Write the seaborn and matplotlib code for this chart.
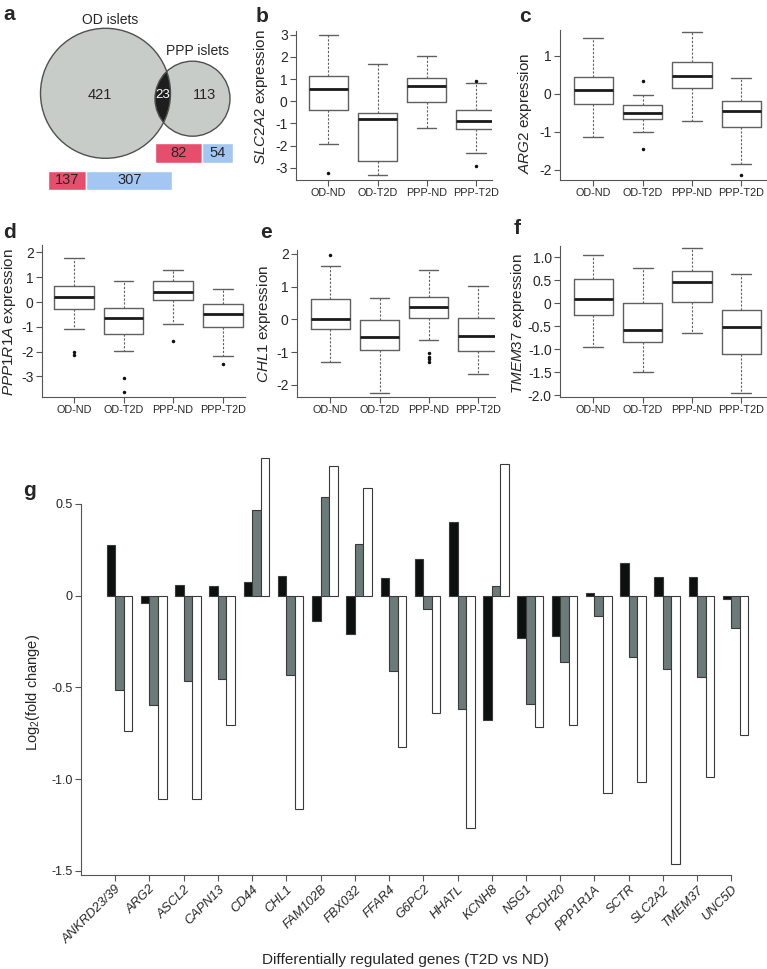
import numpy as np
import pandas as pd
import matplotlib
matplotlib.use("Agg")
import matplotlib.pyplot as plt
import seaborn as sns
from matplotlib.patches import Circle

# -----------------------------
# DATA
# -----------------------------
# panel a: venn counts
od_only, shared, ppp_only = 421, 23, 113
od_split = [137, 307]      # red / blue
ppp_split = [82, 54]       # red / blue

groups = ["OD-ND", "OD-T2D", "PPP-ND", "PPP-T2D"]

# box plot summaries (median, q1, q3, whisker low, whisker high, outliers)
slc2a2_med = [0.57, -0.81, 0.67, -0.88]
slc2a2_q1 = [-0.39, -2.70, -0.04, -1.23]
slc2a2_q3 = [1.15, -0.52, 1.03, -0.40]
slc2a2_lo = [-1.92, -3.31, -1.20, -2.34]
slc2a2_hi = [3.01, 1.68, 2.04, 0.81]
slc2a2_out = [[-3.24], [], [], [0.93, -2.94]]

arg2_med = [0.10, -0.50, 0.46, -0.47]
arg2_q1 = [-0.28, -0.67, 0.15, -0.88]
arg2_q3 = [0.43, -0.31, 0.82, -0.20]
arg2_lo = [-1.15, -1.01, -0.73, -1.85]
arg2_hi = [1.47, -0.03, 1.63, 0.42]
arg2_out = [[], [0.33, -1.46], [], [-2.13]]

ppp1r1a_med = [0.20, -0.63, 0.42, -0.50]
ppp1r1a_q1 = [-0.28, -1.29, 0.09, -0.99]
ppp1r1a_q3 = [0.66, -0.26, 0.86, -0.07]
ppp1r1a_lo = [-1.10, -1.96, -0.87, -2.19]
ppp1r1a_hi = [1.77, 0.83, 1.28, 0.51]
ppp1r1a_out = [[-2.02, -2.13], [-3.06, -3.63], [-1.56], [-2.50]]

chl1_med = [0.01, -0.54, 0.38, -0.50]
chl1_q1 = [-0.28, -0.93, 0.04, -0.98]
chl1_q3 = [0.61, -0.03, 0.69, 0.04]
chl1_lo = [-1.31, -2.25, -0.64, -1.66]
chl1_hi = [1.63, 0.65, 1.52, 1.02]
chl1_out = [[1.96], [], [-1.04, -1.14, -1.22, -1.29], []]

tmem37_med = [0.10, -0.58, 0.47, -0.52]
tmem37_q1 = [-0.25, -0.85, 0.04, -1.11]
tmem37_q3 = [0.53, 0.01, 0.70, -0.15]
tmem37_lo = [-0.95, -1.50, -0.65, -1.96]
tmem37_hi = [1.05, 0.78, 1.20, 0.63]
tmem37_out = [[], [], [], []]

# panel g: log2 fold change, three datasets
genes = ["ANKRD23/39", "ARG2", "ASCL2", "CAPN13", "CD44", "CHL1", "FAM102B",
         "FBX032", "FFAR4", "G6PC2", "HHATL", "KCNH8", "NSG1", "PCDH20",
         "PPP1R1A", "SCTR", "SLC2A2", "TMEM37", "UNC5D"]
fc_black = [0.275, -0.04, 0.058, 0.051, 0.076, 0.105, -0.136, -0.207, 0.095,
            0.20, 0.40, -0.678, -0.229, -0.218, 0.016, 0.178, 0.102, 0.10, -0.02]
fc_grey = [-0.513, -0.598, -0.467, -0.453, 0.467, -0.431, 0.536, 0.28, -0.409,
           -0.075, -0.618, 0.051, -0.589, -0.364, -0.113, -0.333, -0.398, -0.442, -0.178]
fc_white = [-0.738, -1.111, -1.111, -0.704, 0.749, -1.164, 0.709, 0.587, -0.823,
            -0.638, -1.269, 0.716, -0.715, -0.707, -1.075, -1.015, -1.464, -0.991, -0.762]

# -----------------------------
# STYLE
# -----------------------------
sns.set_style("ticks")
plt.rcParams["font.family"] = ["Liberation Sans", "DejaVu Sans"]
plt.rcParams["axes.unicode_minus"] = False
plt.rcParams["mathtext.fontset"] = "custom"
plt.rcParams["mathtext.rm"] = "Liberation Sans"
plt.rcParams["mathtext.it"] = "Liberation Sans:italic"

W, H = 767, 969
fig = plt.figure(figsize=(W / 100, H / 100), dpi=100)
AXC = "#555555"


def px_axes(left, top, right, bottom):
    return fig.add_axes([left / W, 1 - bottom / H, (right - left) / W, (bottom - top) / H])


def fig_text(x, y, s, **kw):
    fig.text(x / W, 1 - y / H, s, ha="center", va="center", **kw)


# -----------------------------
# a: venn
# -----------------------------
ax_a = px_axes(0, 0, 250, 200)
ax_a.set_xlim(0, 250)
ax_a.set_ylim(200, 0)
ax_a.axis("off")
big = Circle((105.5, 93.3), 65, fc="#c8ccc9", ec="none")
small = Circle((192.5, 98.7), 37.5, fc="#c8ccc9", ec="none")
ax_a.add_patch(big)
ax_a.add_patch(small)
lens = Circle((192.5, 98.7), 37.5, fc="#1e1e1e", ec="none")
ax_a.add_patch(lens)
lens.set_clip_path(big)
ax_a.add_patch(Circle((105.5, 93.3), 65, fill=False, ec="#505050", lw=1))
ax_a.add_patch(Circle((192.5, 98.7), 37.5, fill=False, ec="#505050", lw=1))
ax_a.text(100, 95, str(od_only), ha="center", va="center", fontsize=10.5)
ax_a.text(163, 95, str(shared), ha="center", va="center", fontsize=9.5, color="white")
ax_a.text(205, 95, str(ppp_only), ha="center", va="center", fontsize=10.5)
ax_a.text(110, 20, "OD islets", ha="center", va="center", fontsize=10)
ax_a.text(197, 51, "PPP islets", ha="center", va="center", fontsize=10)

bar_cols = ["#e54f6d", "#a3c6f2"]
for split, x0, total_px, yc in [(ppp_split, 155, 78.3, 153), (od_split, 47.7, 124.6, 180.3)]:
    scale = total_px / sum(split)
    left = x0
    for n, c in zip(split, bar_cols):
        ax_a.barh(yc, n * scale, left=left, height=19.5, color=c)
        ax_a.text(left + n * scale / 2, yc, str(n), ha="center", va="center", fontsize=10.5)
        left += n * scale


# -----------------------------
# b-f: box plots
# -----------------------------
def box_panel(ax, med, q1, q3, lo, hi, out, ylim, xlim, yticks, ylabels):
    stats = [dict(med=m, q1=a, q3=b, whislo=l, whishi=h, fliers=f)
             for m, a, b, l, h, f in zip(med, q1, q3, lo, hi, out)]
    ax.bxp(stats, positions=range(4), widths=0.8, capwidths=0.4,
           boxprops=dict(color="#606060", lw=1),
           medianprops=dict(color="#1a1a1a", lw=2),
           whiskerprops=dict(color="#606060", lw=0.8, ls=(0, (2, 1.5))),
           capprops=dict(color="#606060", lw=1),
           flierprops=dict(marker="o", ms=1.5, mfc="#111111", mec="#111111"))
    ax.set_ylim(*ylim)
    ax.set_xlim(*xlim)
    ax.set_xticks(range(4))
    ax.set_xticklabels(groups, fontsize=7.8)
    ax.set_yticks(yticks)
    ax.set_yticklabels(ylabels, fontsize=10)
    ax.spines[["top", "right"]].set_visible(False)
    for s in ["left", "bottom"]:
        ax.spines[s].set_color(AXC)
        ax.spines[s].set_linewidth(0.8)
    ax.tick_params(direction="out", length=4, width=0.8, color=AXC, pad=2)
    ax.set_facecolor("none")


ax_b = px_axes(296, 31, 492, 180)
box_panel(ax_b, slc2a2_med, slc2a2_q1, slc2a2_q3, slc2a2_lo, slc2a2_hi, slc2a2_out,
          (-3.55, 3.17), (-0.66, 3.33), [3, 2, 1, 0, -1, -2, -3],
          ["3", "2", "1", "0", "-1", "-2", "-3"])
ax_c = px_axes(560, 30, 766, 180)
box_panel(ax_c, arg2_med, arg2_q1, arg2_q3, arg2_lo, arg2_hi, arg2_out,
          (-2.27, 1.67), (-0.675, 3.50), [1, 0, -1, -2], ["1", "0", "-1", "-2"])
ax_d = px_axes(42, 245, 245, 397)
box_panel(ax_d, ppp1r1a_med, ppp1r1a_q1, ppp1r1a_q3, ppp1r1a_lo, ppp1r1a_hi, ppp1r1a_out,
          (-3.83, 2.3), (-0.645, 3.45), [2, 1, 0, -1, -2, -3],
          ["2", "1", "0", "-1", "-2", "-3"])
ax_e = px_axes(297, 250, 495, 397)
box_panel(ax_e, chl1_med, chl1_q1, chl1_q3, chl1_lo, chl1_hi, chl1_out,
          (-2.37, 2.12), (-0.68, 3.35), [2, 1, 0, -1, -2], ["2", "1", "0", "-1", "-2"])
ax_f = px_axes(560, 246, 766, 397)
box_panel(ax_f, tmem37_med, tmem37_q1, tmem37_q3, tmem37_lo, tmem37_hi, tmem37_out,
          (-2.04, 1.25), (-0.675, 3.50), [1, 0.5, 0, -0.5, -1, -1.5, -2],
          ["1.0", "0.5", "0", "-0.5", "-1.0", "-1.5", "-2.0"])

fig_text(261, 97, r"$\mathit{SLC2A2}$ expression", rotation=90, fontsize=11)
fig_text(525, 113, r"$\mathit{ARG2}$ expression", rotation=90, fontsize=11)
fig_text(9, 322, r"$\mathit{PPP1R1A}$ expression", rotation=90, fontsize=11)
fig_text(264, 324, r"$\mathit{CHL1}$ expression", rotation=90, fontsize=11)
fig_text(518, 324, r"$\mathit{TMEM37}$ expression", rotation=90, fontsize=11)

# -----------------------------
# g: grouped bars
# -----------------------------
df = pd.DataFrame({
    "gene": genes * 3,
    "fc": fc_black + fc_grey + fc_white,
    "series": ["set1"] * len(genes) + ["set2"] * len(genes) + ["set3"] * len(genes),
})
ax_g = px_axes(81, 455, 750, 875)
sns.barplot(data=df, x="gene", y="fc", hue="series", order=genes,
            palette=["#0c100f", "#6b7b7a", "#ffffff"], saturation=1,
            width=0.75, gap=0, edgecolor="#3a3a3a", linewidth=0.8,
            errorbar=None, legend=False, ax=ax_g)
ax_g.set_xlim(-1.125, 18.42)
ax_g.set_ylim(-1.523, 0.767)
ax_g.set_xticks(np.arange(len(genes)) - 0.125)
ax_g.set_xticklabels(genes, rotation=45, ha="right", va="top", rotation_mode="anchor",
                     fontsize=9.3, style="italic")
ax_g.set_yticks([0.5, 0, -0.5, -1.0, -1.5])
ax_g.set_yticklabels(["0.5", "0", "-0.5", "-1.0", "-1.5"], fontsize=9)
ax_g.set_xlabel("")
ax_g.set_ylabel("")
ax_g.spines[["top", "right"]].set_visible(False)
for s in ["left", "bottom"]:
    ax_g.spines[s].set_color(AXC)
    ax_g.spines[s].set_linewidth(0.8)
ax_g.spines["left"].set_bounds(-1.523, 0.5)
ax_g.spines["bottom"].set_bounds(-1.125, len(genes) - 1.125)
ax_g.tick_params(direction="out", length=4, width=0.8, color=AXC, pad=2)
ax_g.set_facecolor("none")

fig_text(33, 692, r"Log$_2$(fold change)", rotation=90, fontsize=10.5)
fig_text(405, 960, "Differentially regulated genes (T2D vs ND)", fontsize=11)

# panel letters
for lab, x, y in [("a", 9, 15), ("b", 262, 16), ("c", 525, 16),
                  ("d", 9, 233), ("e", 266, 233), ("f", 517, 229), ("g", 30, 490)]:
    fig_text(x, y, lab, fontsize=15, fontweight="bold")

fig.savefig("out.png", dpi=100)
